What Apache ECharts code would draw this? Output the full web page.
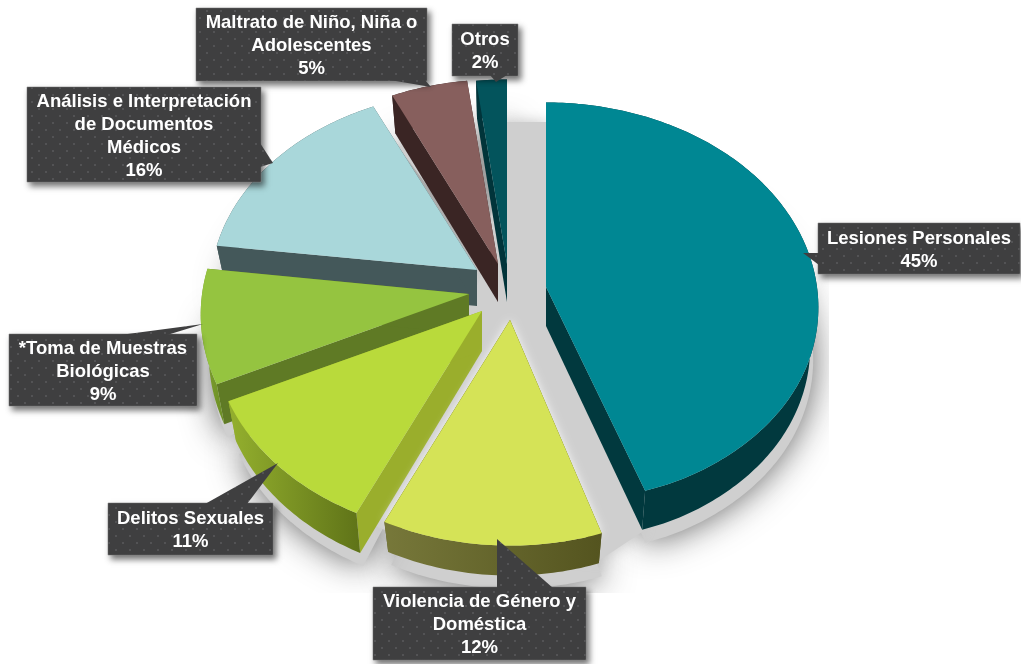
<!DOCTYPE html>
<html><head><meta charset="utf-8">
<style>html,body{margin:0;padding:0;background:#fff}#c{width:1021px;height:664px}</style>
<script src="https://cdn.jsdelivr.net/npm/echarts@6/dist/echarts.min.js"></script>
</head><body><div id="c"></div>
<script>
// ---- data (clockwise from 12 o'clock)
const categories = ['Lesiones Personales','Violencia de Género y Doméstica','Delitos Sexuales','*Toma de Muestras Biológicas','Análisis e Interpretación de Documentos Médicos','Maltrato de Niño, Niña o Adolescentes','Otros'];
const values = [45,12,11,9,16,5,2];
// line breaks of each category in its callout
const labelLines = [
 ['Lesiones Personales'],
 ['Violencia de Género y','Doméstica'],
 ['Delitos Sexuales'],
 ['*Toma de Muestras','Biológicas'],
 ['Análisis e Interpretación','de Documentos','Médicos'],
 ['Maltrato de Niño, Niña o','Adolescentes'],
 ['Otros']
];
// ---- styling / layout, separate from the data
const topColors  = ['#008793','#d5e357','#b9da3b','#95c440','#a9d7da','#875f5d','#03545c'];
const edgeColors = ['#01393e','#5a5a25','#9aae2c','#5f7a25','#44585a','#3a2524','#01343a'];
const wallStops  = [['#01393e','#01393e'],['#77783a','#54541f'],['#94b02e','#5f7318'],['#7fa030','#6c8f26'],['#44585a','#44585a'],['#3a2524','#3a2524'],['#01343a','#01343a']];
const apexes = [[546,287],[510,320],[482,311],[469,294],[477,270],[498,264],[507,264]];
const depths = [39,30,40,40,36,38,38];
const scaleX = [1,0.99,0.99,0.985,0.98,1,1];
const scaleY = [1,1,1,1,0.97,1,1];
const frontSquash = [0.05,0,0,0,0,0,0];
const frontStretch = [0.13,0,0,0,0,0,0];
const RX=271, RY=203, K=0.1, WALL_TAPER=0.97;
const boxes = [[818,223,202,51],[373,587,213,73],[108,503,165,52],[9,334,188,72],[27,87,234,95],[196,8,231,73],[452,24,66,52]];
const wedges = [
 [[803,253],[819,253],[819,265]],
 [[497,539],[497,588],[553,588]],
 [[278,463],[205,504],[247,504]],
 [[203,324],[120,335],[167,335]],
 [[273,163],[260,143],[260,167]],
 [[431,87],[390,80],[425,80]],
 [[496,82],[490,75],[507,75]]
];

const total=values.reduce((a,b)=>a+b,0);
const starts=[];values.reduce((a,v,i)=>{starts[i]=a;return a+v},0);
function slicePoint(i,th){
  const X=Math.sin(th),Y=Math.cos(th),s=1/(1+K*Y);
  let x=RX*scaleX[i]*X*s, y=RY*scaleY[i]*Y*s;
  if(Y<0){ x*=1+frontStretch[i]*Math.pow(Y,12); y*=1-frontSquash[i]*Y*Y; }
  return [apexes[i][0]+x, apexes[i][1]-y];
}
function arc(i){
  const a0=starts[i]/total*2*Math.PI,a1=(starts[i]+values[i])/total*2*Math.PI;
  const pts=[],n=Math.max(8,Math.ceil((a1-a0)*60));
  for(let k=0;k<=n;k++)pts.push(slicePoint(i,a0+(a1-a0)*k/n));
  return pts;
}
function lower(i,p){ const cx=apexes[i][0]; return [cx+(p[0]-cx)*WALL_TAPER,p[1]+depths[i]]; }
function dots(){
  const c=document.createElement('canvas');c.width=14;c.height=14;
  const g=c.getContext('2d');g.fillStyle='#3f3f40';g.fillRect(0,0,14,14);
  g.fillStyle='#535355';
  [[3,3],[10,10]].forEach(p=>g.fillRect(p[0],p[1],2,2));
  return c;
}
const pattern={image:dots(),repeat:'repeat'};
const order=values.map((_,i)=>i).reverse();

function renderSlice(params,api){
  const i=api.value(0);
  const [cx,cy]=apexes[i];
  const top=arc(i);
  const low=top.map(p=>lower(i,p)).reverse();
  const first=top[0],last=top[top.length-1];
  const fillEdge=edgeColors[i];
  const wall=new echarts.graphic.LinearGradient(0,0,1,0,[{offset:0,color:wallStops[i][0]},{offset:1,color:wallStops[i][1]}]);
  const base=[cx,cy+depths[i]];
  const face=[[cx,cy]].concat(top);
  const kids=[];
  if(i===1) kids.push({type:'polygon',shape:{points:face},style:{fill:topColors[i],shadowColor:'rgba(255,255,255,0.85)',shadowBlur:10}});
  kids.push(
    {type:'polygon',shape:{points:[[cx,cy],first,lower(i,first),base]},style:{fill:fillEdge}},
    {type:'polygon',shape:{points:[[cx,cy],last,lower(i,last),base]},style:{fill:fillEdge}},
    {type:'polygon',shape:{points:top.concat(low)},style:{fill:wall}},
    {type:'polygon',shape:{points:face},style:{fill:topColors[i]}}
  );
  return {type:'group',children:kids};
}
function renderLabel(params,api){
  const i=api.value(0);
  const [x,y,w,h]=boxes[i];
  const text=labelLines[i].concat(values[i]+'%').join('\n');
  return {type:'group',children:[
    {type:'rect',shape:{x,y,width:w,height:h},style:{fill:'#3f3f40',stroke:'#8a8a8a',lineWidth:0.6,shadowColor:'rgba(0,0,0,0.55)',shadowBlur:6,shadowOffsetX:3,shadowOffsetY:4}},
    {type:'polygon',shape:{points:wedges[i]},style:{fill:pattern}},
    {type:'rect',shape:{x:x+0.5,y:y+0.5,width:w-1,height:h-1},style:{fill:pattern}},
    {type:'text',style:{text,x:x+w/2,y:y+h/2+1.5,align:'center',verticalAlign:'middle',fill:'#fff',
      font:'bold 18.5px "Liberation Sans", Arial, sans-serif',lineHeight:23,
      shadowColor:'rgba(0,0,0,0.6)',shadowBlur:2}}
  ]};
}
function renderShadow(params,api){
  const grey={fill:'#cfcfcf',shadowColor:'rgba(90,90,90,0.95)',shadowBlur:34};
  const kids=[];
  values.forEach((_,i)=>{
    const top=arc(i),low=top.map(p=>lower(i,p));
    const pts=[[apexes[i][0],apexes[i][1]+10]].concat(low).map(p=>[p[0]+3,p[1]+13]);
    kids.push({type:'polygon',shape:{points:pts},style:grey});
  });
  kids.push({type:'polygon',shape:{points:[[507,122],[547,122],[548,330],[645,530],[600,560],[385,530],[360,520],[480,280]]},style:{fill:'#cfcfcf',shadowColor:'rgba(200,200,200,1)',shadowBlur:14}});
  // the shadow picture stops at a hard edge on its right and bottom sides
  kids.push({type:'rect',shape:{x:829,y:0,width:192,height:664},style:{fill:'#fff'}});
  kids.push({type:'rect',shape:{x:0,y:593,width:1021,height:71},style:{fill:'#fff'}});
  return {type:'group',children:kids};
}
const chart=echarts.init(document.getElementById('c'),null,{renderer:'canvas'});
chart.setOption({
  animation:false,backgroundColor:'#fff',
  series:[
    {type:'custom',coordinateSystem:'none',z:1,silent:true,data:[[0]],renderItem:renderShadow},
    {type:'custom',coordinateSystem:'none',z:2,silent:true,name:'Pie',data:order.map(i=>[i,values[i],categories[i]]),renderItem:renderSlice},
    {type:'custom',coordinateSystem:'none',z:3,silent:true,data:order.map(i=>[i,values[i],categories[i]]),renderItem:renderLabel}
  ]
});
</script></body></html>
